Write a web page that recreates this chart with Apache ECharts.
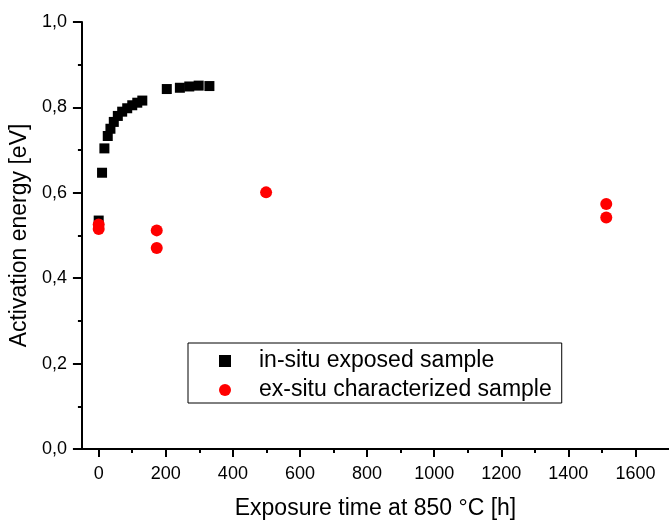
<!DOCTYPE html>
<html>
<head>
<meta charset="utf-8">
<script src="https://cdn.jsdelivr.net/npm/echarts@6/dist/echarts.min.js"></script>
<style>
html,body{margin:0;padding:0;background:#fff;}
#chart{width:669px;height:525px;}
</style>
</head>
<body>
<div id="chart"></div>
<script>
// Data
const inSituTime   = [0, 10, 17, 27, 35, 45, 57, 70, 85, 100, 115, 130, 203, 242, 270, 298, 330];
const inSituEnergy = [0.535, 0.647, 0.704, 0.733, 0.750, 0.766, 0.780, 0.790, 0.798, 0.805, 0.811, 0.816, 0.843, 0.846, 0.849, 0.851, 0.850];
const exSituTime   = [0, 0, 173, 173, 499, 1513, 1513];
const exSituEnergy = [0.526, 0.515, 0.512, 0.471, 0.601, 0.574, 0.542];
const xMajorTicks  = [0, 200, 400, 600, 800, 1000, 1200, 1400, 1600];
const xMinorTicks  = [100, 300, 500, 700, 900, 1100, 1300, 1500];
const seriesNames  = ['in-situ exposed sample', 'ex-situ characterized sample'];
const xTitle = 'Exposure time at 850 °C [h]';
const yTitle = 'Activation energy [eV]';

const FONT = '"Liberation Sans", Arial, sans-serif';
const NARROW = '"Liberation Sans Narrow", "Arial Narrow", "Liberation Sans", sans-serif';
const chart = echarts.init(document.getElementById('chart'), null, {renderer: 'canvas'});

const axisLine = {show: true, onZero: false, lineStyle: {color: '#000', width: 2}};
const option = {
  animation: false,
  backgroundColor: '#fff',
  grid: {left: 80, top: 22, width: 590, height: 432, containLabel: false},
  legend: {
    orient: 'vertical',
    left: 188, top: 343,
    data: [
      {name: seriesNames[0], icon: 'rect'},
      {name: seriesNames[1], icon: 'circle'}
    ],
    itemWidth: 12, itemHeight: 12, itemGap: 5,
    padding: [6, 10, 1, 31],
    borderColor: '#000', borderWidth: 1,
    backgroundColor: '#fff',
    textStyle: {fontFamily: FONT, fontSize: 23, color: '#000', padding: [0, 0, 0, 23], lineHeight: 24}
  },
  xAxis: [
    {
      type: 'value', min: -50, max: 1700,
      name: xTitle, nameLocation: 'middle', nameGap: 48,
      nameTextStyle: {fontFamily: FONT, fontSize: 23, color: '#000'},
      axisLine: axisLine,
      axisTick: {show: true, inside: false, length: 8, customValues: xMajorTicks, lineStyle: {color: '#000', width: 2}},
      axisLabel: {show: true, customValues: xMajorTicks, margin: 16, fontFamily: NARROW, fontSize: 18, color: '#000',
        formatter: v => String(v)},
      splitLine: {show: false}
    },
    {
      type: 'value', min: -50, max: 1700, position: 'bottom',
      axisLine: {show: false},
      axisTick: {show: true, inside: false, length: 4, customValues: xMinorTicks, lineStyle: {color: '#000', width: 2}},
      axisLabel: {show: false},
      splitLine: {show: false}
    }
  ],
  yAxis: {
    type: 'value', min: 0, max: 1, interval: 0.2,
    name: yTitle, nameLocation: 'middle', nameGap: 44,
    nameTextStyle: {fontFamily: FONT, fontSize: 23, color: '#000'},
    axisLine: axisLine,
    axisTick: {show: true, inside: false, length: 9, lineStyle: {color: '#000', width: 2}},
    minorTick: {show: true, splitNumber: 2, length: 4, lineStyle: {color: '#000', width: 2}},
    axisLabel: {margin: 15, fontFamily: NARROW, fontSize: 18, color: '#000',
      formatter: v => v.toFixed(1).replace('.', ',')},
    splitLine: {show: false}
  },
  series: [
    {
      name: seriesNames[0], type: 'scatter', symbol: 'rect', symbolSize: 10,
      itemStyle: {color: '#000', opacity: 1},
      data: inSituTime.map((t, i) => [t, inSituEnergy[i]])
    },
    {
      name: seriesNames[1], type: 'scatter', symbol: 'circle', symbolSize: 12,
      itemStyle: {color: '#ff0000', opacity: 1},
      data: exSituTime.map((t, i) => [t, exSituEnergy[i]])
    }
  ]
};
chart.setOption(option);
</script>
</body>
</html>
